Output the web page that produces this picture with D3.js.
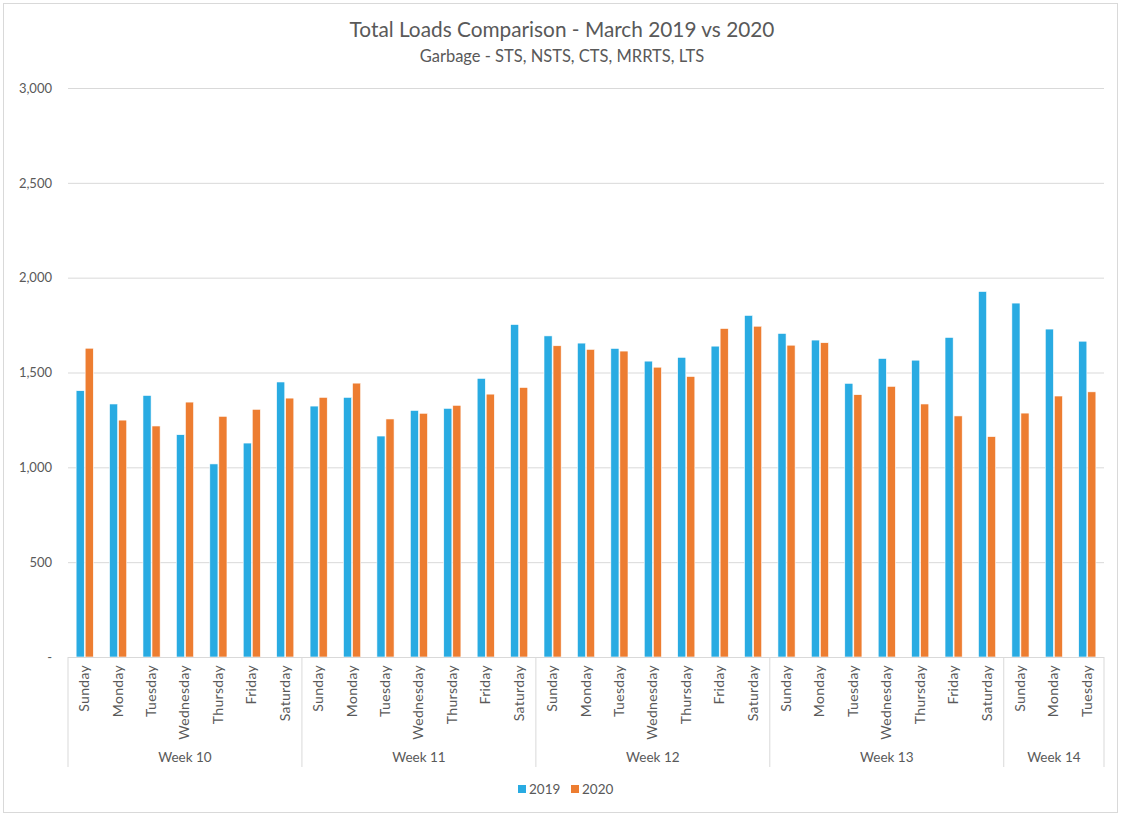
<!DOCTYPE html>
<html>
<head>
<meta charset="utf-8">
<script src="https://cdn.jsdelivr.net/npm/d3@7"></script>
<style>
  body { margin: 0; background: #fff; }
  svg text { font-family: Lato, "Open Sans", sans-serif; fill: #595959; }
</style>
</head>
<body>
<div id="chart"></div>
<script>
// chart values
const weeks = ["Week 10", "Week 11", "Week 12", "Week 13", "Week 14"];
const weekDays = [
  ["Sunday", "Monday", "Tuesday", "Wednesday", "Thursday", "Friday", "Saturday"],
  ["Sunday", "Monday", "Tuesday", "Wednesday", "Thursday", "Friday", "Saturday"],
  ["Sunday", "Monday", "Tuesday", "Wednesday", "Thursday", "Friday", "Saturday"],
  ["Sunday", "Monday", "Tuesday", "Wednesday", "Thursday", "Friday", "Saturday"],
  ["Sunday", "Monday", "Tuesday"]
];
const series = ["2019", "2020"];
const loads2019 = [1404, 1334, 1379, 1172, 1018, 1128, 1450,
                   1323, 1369, 1165, 1300, 1311, 1469, 1753,
                   1693, 1655, 1627, 1560, 1580, 1639, 1801,
                   1706, 1671, 1443, 1574, 1565, 1685, 1927,
                   1866, 1729, 1665];
const loads2020 = [1628, 1249, 1218, 1344, 1269, 1306, 1365,
                   1369, 1444, 1255, 1285, 1327, 1386, 1421,
                   1641, 1622, 1613, 1528, 1479, 1732, 1744,
                   1644, 1657, 1383, 1427, 1334, 1271, 1162,
                   1286, 1376, 1398];
const yTicks = [0, 500, 1000, 1500, 2000, 2500, 3000];

const colors = { "2019": "#29abe2", "2020": "#ed7d31" };

const width = 1121, height = 815;
const plotLeft = 68, plotRight = 1104, plotTop = 88, plotBottom = 657;

// flat list of categories
let cats = [];
weekDays.forEach((days, w) => days.forEach(d => cats.push({ week: w, day: d })));
cats.forEach((c, i) => { c.i = i; c.v2019 = loads2019[i]; c.v2020 = loads2020[i]; });

let svg = d3.select("#chart")
  .append("svg")
    .attr("width", width)
    .attr("height", height);

// chart border
svg.append("rect")
  .attr("x", 3.5).attr("y", 3.5)
  .attr("width", width - 7).attr("height", height - 6)
  .attr("fill", "white")
  .attr("stroke", "#d9d9d9");

let x0 = d3.scaleBand()
  .domain(cats.map(c => c.i))
  .range([plotLeft, plotRight])
  .padding(0);

let x1 = d3.scaleBand()
  .domain(series)
  .range([0, x0.bandwidth()])
  .paddingInner(0.1)
  .paddingOuter(0.9);

let y = d3.scaleLinear()
  .domain([0, 3000])
  .range([plotBottom, plotTop]);

// gridlines + tick labels
let yAxis = d3.axisLeft(y)
  .tickValues(yTicks)
  .tickSize(-(plotRight - plotLeft))
  .tickPadding(16)
  .tickFormat(d => d === 0 ? "-" : d3.format(",")(d));

let gy = svg.append("g")
  .attr("transform", "translate(" + plotLeft + ",0)")
  .call(yAxis);
gy.select(".domain").remove();
gy.selectAll(".tick line").attr("stroke", "#d9d9d9");
gy.selectAll(".tick text")
  .style("font-size", "13px")
  .attr("x", -16);

// bars
let groups = svg.append("g")
  .selectAll("g")
  .data(cats)
  .join("g")
    .attr("transform", d => "translate(" + x0(d.i) + ",0)");

groups.selectAll("rect")
  .data(d => series.map(s => ({ key: s, value: d["v" + s] })))
  .join("rect")
    .attr("x", d => x1(d.key))
    .attr("y", d => y(d.value))
    .attr("width", x1.bandwidth())
    .attr("height", d => y(0) - y(d.value))
    .attr("fill", d => colors[d.key])
    .attr("stroke", "white")
    .style("stroke-width", 0.6);

// category axis
svg.append("line")
  .attr("x1", plotLeft).attr("x2", plotRight)
  .attr("y1", plotBottom + 0.5).attr("y2", plotBottom + 0.5)
  .attr("stroke", "#d9d9d9");

svg.append("g")
  .selectAll("text")
  .data(cats)
  .join("text")
    .attr("transform", d => "translate(" + (x0(d.i) + x0.bandwidth() / 2 + 4.5) + "," + (plotBottom + 8) + ") rotate(-90)")
    .attr("text-anchor", "end")
    .style("font-size", "14px")
    .style("letter-spacing", "0.3px")
    .text(d => d.day);

// week separators and labels
let starts = [0];
weekDays.forEach((days, w) => starts.push(starts[w] + days.length));

svg.append("g")
  .selectAll("line")
  .data(starts)
  .join("line")
    .attr("x1", d => d < cats.length ? x0(d) : plotRight)
    .attr("x2", d => d < cats.length ? x0(d) : plotRight)
    .attr("y1", plotBottom)
    .attr("y2", 767)
    .attr("stroke", "#d9d9d9");

svg.append("g")
  .selectAll("text")
  .data(weeks)
  .join("text")
    .attr("x", (d, w) => {
      let a = x0(starts[w]);
      let b = starts[w + 1] < cats.length ? x0(starts[w + 1]) : plotRight;
      return (a + b) / 2;
    })
    .attr("y", 762)
    .attr("text-anchor", "middle")
    .style("font-size", "13.5px")
    .text(d => d);

// titles
svg.append("text")
  .attr("x", 562).attr("y", 37)
  .attr("text-anchor", "middle")
  .style("font-size", "20.8px")
  .text("Total Loads Comparison - March 2019 vs 2020");

svg.append("text")
  .attr("x", 562).attr("y", 62)
  .attr("text-anchor", "middle")
  .style("font-size", "16.5px")
  .text("Garbage - STS, NSTS, CTS, MRRTS, LTS");

// legend
let legend = svg.append("g")
  .selectAll("g")
  .data(series)
  .join("g")
    .attr("transform", (d, i) => "translate(" + (518 + i * 53) + ",785)");

legend.append("rect")
  .attr("width", 8).attr("height", 8)
  .attr("fill", d => colors[d]);

legend.append("text")
  .attr("x", 11).attr("y", 9)
  .style("font-size", "13.5px")
  .text(d => d);
</script>
</body>
</html>
